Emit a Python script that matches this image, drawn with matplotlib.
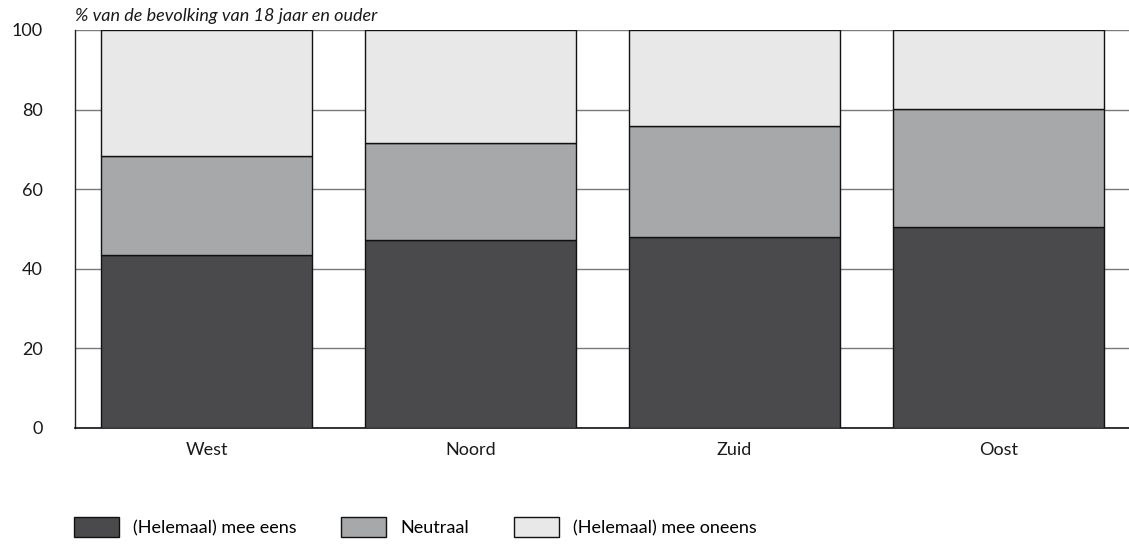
import numpy as np
import matplotlib.pyplot as plt

# Data
regions = ["West", "Noord", "Zuid", "Oost"]
eens = [43.5, 47.2, 48.0, 50.6]
neutraal = [24.8, 24.3, 27.9, 29.6]
oneens = [31.7, 28.5, 24.1, 19.8]
labels = ["(Helemaal) mee eens", "Neutraal", "(Helemaal) mee oneens"]
colors = ["#4a4a4c", "#a7a8aa", "#e8e8e8"]

plt.rcParams["font.family"] = ["Lato", "DejaVu Sans"]
FS = 13

fig = plt.figure(figsize=(11.29, 5.45), dpi=100)
ax = fig.add_axes([75 / 1129, 117 / 545, 1055 / 1129, 398 / 545])

x = np.arange(len(regions))
bottom = np.zeros(len(regions))
handles = []
for vals, lab, col in zip([eens, neutraal, oneens], labels, colors):
    b = ax.bar(x, vals, width=0.8, bottom=bottom, color=col,
               edgecolor="#111111", linewidth=1.0, label=lab, zorder=3)
    handles.append(b)
    bottom += np.array(vals)

ax.set_xlim(-0.5, 3.5)
ax.set_ylim(0, 100)
ax.set_yticks([0, 20, 40, 60, 80, 100])
ax.set_xticks(x)
ax.set_xticklabels(regions)
ax.yaxis.grid(True, color="#7a7a7a", linewidth=1.0, zorder=0)
ax.tick_params(length=0, labelsize=FS, colors="#1a1a1a")
ax.tick_params(axis="y", pad=23)
ax.tick_params(axis="x", pad=10)
for lbl in ax.get_yticklabels():
    lbl.set_horizontalalignment("right")

for s in ["top", "right"]:
    ax.spines[s].set_visible(False)
ax.spines["left"].set_color("#222222")
ax.spines["bottom"].set_color("#111111")
ax.spines["bottom"].set_linewidth(1.2)
ax.spines["left"].set_linewidth(1.0)

fig.text(75 / 1129, 1 - 16 / 545, "% van de bevolking van 18 jaar en ouder",
         fontsize=FS, style="italic", va="center", ha="left", color="#1a1a1a")

fig.legend(handles=handles, loc="center left", bbox_to_anchor=(58 / 1129, 1 - 527 / 545),
           ncol=3, frameon=False, fontsize=FS, handlelength=2.5, handleheight=1.28,
           columnspacing=2.45, handletextpad=0.78)

fig.savefig("out.png", dpi=100)
